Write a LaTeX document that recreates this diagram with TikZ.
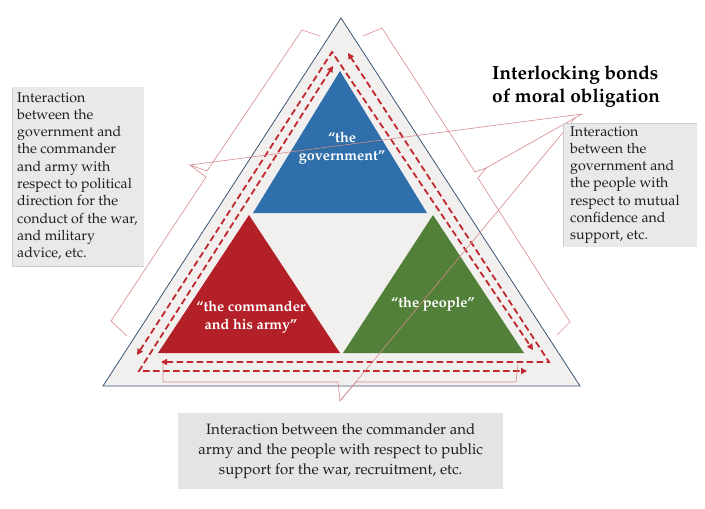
\documentclass[tikz,border=0pt]{standalone}
\IfFileExists{mathpazo.sty}{\usepackage[T1]{fontenc}\usepackage{mathpazo}}{%
  \IfFileExists{palatino.sty}{\usepackage[T1]{fontenc}\usepackage{palatino}}{%
    \usepackage{fontspec}\setmainfont{Liberation Serif}}}
\usetikzlibrary{arrows.meta}
\definecolor{tblue}{RGB}{47,111,171}
\definecolor{tred}{RGB}{180,32,40}
\definecolor{tgreen}{RGB}{83,128,57}
\definecolor{tfill}{RGB}{242,240,239}
\definecolor{tedge}{RGB}{60,85,115}
\definecolor{dred}{RGB}{192,40,46}
\definecolor{tpink}{RGB}{214,138,139}
\definecolor{boxgray}{RGB}{233,233,233}
\definecolor{boxedge}{RGB}{205,205,205}
\definecolor{botgray}{RGB}{228,228,228}
\begin{document}
\begin{tikzpicture}[x=1pt,y=-1pt,
  dashline/.style={draw=dred, line width=1.8pt, dash pattern=on 6.5pt off 3.5pt,
     {Triangle[length=6pt,width=6pt]}-{Triangle[length=6pt,width=6pt]}},
  bracket/.style={draw=tpink, line width=0.6pt},
  sidetext/.style={font=\fontsize{14.2}{17.3}\selectfont, align=left, anchor=north west, inner sep=0pt, text=black!88},
  innerlabel/.style={font=\fontsize{14.4}{17.5}\selectfont\bfseries, align=center, text=white, inner sep=0pt},
  graybox/.style={fill=boxgray, draw=none, anchor=north west, inner sep=0pt}
]
\useasboundingbox (0,0) rectangle (705,509);
\fill[white] (0,0) rectangle (705,509);

% outer triangle
\filldraw[fill=tfill, draw=tedge, line width=0.8pt] (341,18) -- (580,386) -- (103,386) -- cycle;
% inner triangles
\fill[tblue] (340,71) -- (427,213) -- (253,213) -- cycle;
\fill[tred] (249,215) -- (340,353) -- (158,353) -- cycle;
\fill[tgreen] (433,215) -- (524,353) -- (343,353) -- cycle;

% dashed bidirectional arrows
\coordinate (c1) at (139,371);
\coordinate (c2) at (549,362);
\coordinate (c3) at (332,52);
\draw[dashline] (333,66) -- (c1) -- (527,371);
\draw[dashline] (161,362) -- (c2) -- (348,53);
\draw[dashline] (137,355) -- (c3) -- (533,350);

% title
\node[font=\fontsize{19}{23}\selectfont\bfseries, align=left, anchor=north west, inner sep=0pt] (title) at (492,66)
  {Interlocking bonds\\of moral obligation};
\coordinate (tp) at (582,114);

% brackets with leaders
\coordinate (ltip) at (190,165);
\coordinate (rtip) at (486,168);
\coordinate (btip) at (340,401);
\draw[bracket] (320,36) -- (302,30) -- (207,171) -- (ltip) -- (206,177) -- (111,321) -- (127,336);
\draw[bracket] (ltip) -- (tp);
\draw[bracket] (363,36) -- (382,28) -- (475,172) -- (rtip) -- (478,178) -- (570,322) -- (557,335);
\draw[bracket] (rtip) -- (tp);
\draw[bracket] (163,363) -- (163,382) -- (338,382) -- (btip) -- (356,382) -- (516,382) -- (518,364);
\draw[bracket] (btip) -- (575,118);

% inner labels
\node[innerlabel] (gov) at (342,148) {\textquotedblleft the\\government\textquotedblright};
\node[innerlabel] (cmd) at (251,317) {\textquotedblleft the commander\\and his army\textquotedblright};
\node[innerlabel] (ppl) at (433,304) {\textquotedblleft the people\textquotedblright};

% left box
\node[graybox, minimum width=132pt, minimum height=179pt] (lbox) at (12,87) {};
\draw[boxedge, line width=0.7pt] (lbox.north west) -- (lbox.south west) -- (lbox.south east);
\node[sidetext] (ltext) at (17,92) {Interaction\\between the\\government and\\the commander\\and army with\\respect to political\\direction for the\\conduct of the war,\\and military\\advice, etc.};

% right box
\node[graybox, minimum width=134pt, minimum height=124pt] (rbox) at (563,123) {};
\draw[boxedge, line width=0.7pt] (rbox.south west) -- (rbox.north west) -- (rbox.north east);
\node[sidetext] (rtext) at (570,126) {Interaction\\between the\\government and\\the people with\\respect to mutual\\confidence and\\support, etc.};

% bottom box
\node[fill=botgray, anchor=north west, inner sep=0pt, minimum width=325pt, minimum height=76pt] (bbox) at (178,413) {};
\node[font=\fontsize{15}{20}\selectfont, align=center, inner sep=0pt, text=black!88] (btext) at (bbox.center)
  {Interaction between the commander and\\army and the people with respect to public\\support for the war, recruitment, etc.};
\end{tikzpicture}
\end{document}
